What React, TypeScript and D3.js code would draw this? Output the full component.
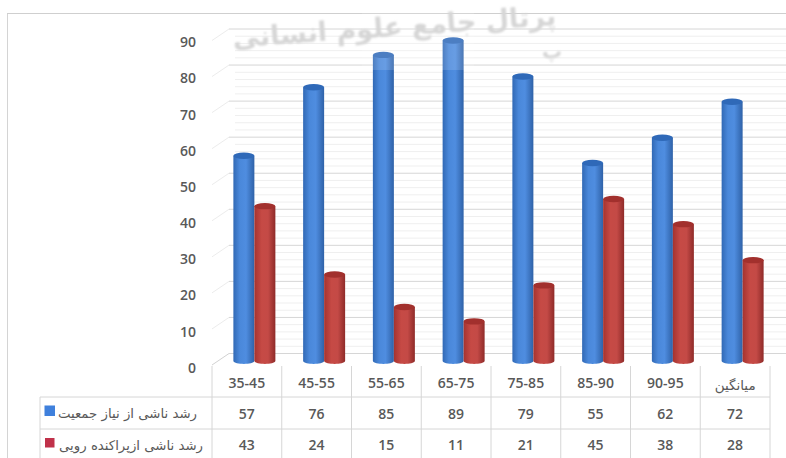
import React from "react";
import * as d3 from "d3";

// Chart values
const categories = ["35-45", "45-55", "55-65", "65-75", "75-85", "85-90", "90-95", "میانگین"];
const populationGrowth = [57, 76, 85, 89, 79, 55, 62, 72];
const sprawlGrowth = [43, 24, 15, 11, 21, 45, 38, 28];
const seriesNames = ["رشد ناشی از نیاز جمعیت", "رشد ناشی ازپراکنده رویی"];
const axisTicks = d3.range(0, 100, 10);
const minorTicks = d3.range(0, 92, 2).filter((d) => d % 10 !== 0);

const W = 786;
const H = 458;
const TEXT = "#595959";
const FONT = "'Open Sans', 'DejaVu Sans', sans-serif";
const ARABIC = "'DejaVu Sans', sans-serif";

// Table columns double as the category band
const colX = d3.scaleBand<string>().domain(categories).range([212, 770]);
// Value scale for the cylinders, measured at the centre of the end caps
const barY = d3.scaleLinear().domain([0, 89]).range([361, 40.5]);
// Back wall of the 3D plot
const wallY = d3.scaleLinear().domain([0, 90]).range([353.5, 29]);
// Labels sit on the front edge of the plot box
const labelY = d3.scaleLinear().domain([0, 90]).range([369, 43.5]);
const WALL_X = 229;
const DEPTH_X = 212;
const DEPTH_DY = 11.5;

const BAR_W = 21;
const CAP_RY = 3.2;

function Cylinder({ x, value, id, cap }: { x: number; value: number; id: string; cap: string }) {
  const top = barY(value);
  const bottom = barY(0);
  const rx = BAR_W / 2;
  const path = d3.path();
  path.moveTo(x, top);
  path.lineTo(x, bottom);
  path.bezierCurveTo(x + 1, bottom + CAP_RY * 1.2, x + BAR_W - 1, bottom + CAP_RY * 1.2, x + BAR_W, bottom);
  path.lineTo(x + BAR_W, top);
  path.closePath();
  return (
    <g>
      <path d={path.toString()} fill={`url(#${id})`} />
      <ellipse cx={x + rx} cy={top} rx={rx} ry={CAP_RY} fill={cap} />
    </g>
  );
}

export default function App() {
  const bw = colX.bandwidth();
  return (
    <svg
      width={W}
      height={H}
      viewBox={`0 0 ${W} ${H}`}
      style={{ position: "absolute", left: 0, top: 0, background: "#fff" }}
    >
      <defs>
        <linearGradient id="blueBody" x1="0" x2="1" y1="0" y2="0">
          <stop offset="0" stopColor="#3169b5" />
          <stop offset="0.3" stopColor="#4a88da" />
          <stop offset="0.6" stopColor="#4f8de0" />
          <stop offset="1" stopColor="#2f62a8" />
        </linearGradient>
        <linearGradient id="redBody" x1="0" x2="1" y1="0" y2="0">
          <stop offset="0" stopColor="#a5332f" />
          <stop offset="0.35" stopColor="#c64a45" />
          <stop offset="0.65" stopColor="#c44a46" />
          <stop offset="1" stopColor="#8f2b29" />
        </linearGradient>
        <filter id="soft" x="-5%" y="-20%" width="110%" height="140%">
          <feGaussianBlur stdDeviation="1" />
        </filter>
      </defs>

      {/* Outer frame */}
      <line x1={7.5} x2={7.5} y1={14} y2={H} stroke="#d4d4d4" />
      <line x1={7} x2={W} y1={13.5} y2={13.5} stroke="#cfcfcf" strokeWidth={1.2} />

      {/* Back wall gridlines */}
      {minorTicks.map((t) => (
        <line key={t} x1={WALL_X + 6} x2={W} y1={wallY(t)} y2={wallY(t)} stroke="#efefef" />
      ))}
      {axisTicks.map((t) => (
        <g key={t}>
          <line x1={WALL_X} x2={W} y1={wallY(t)} y2={wallY(t)} stroke="#d6d6d6" />
          <line
            x1={DEPTH_X}
            x2={WALL_X}
            y1={wallY(t) + DEPTH_DY}
            y2={wallY(t)}
            stroke={t === 0 ? "#d2d2d2" : "#ececec"}
          />
        </g>
      ))}

      {/* Cylinders */}
      {categories.map((c, i) => {
        const x0 = (colX(c) as number) + bw / 2 - BAR_W + 7.5;
        return (
          <g key={c}>
            <Cylinder x={x0} value={populationGrowth[i]} id="blueBody" cap="#2f69b8" />
            <Cylinder x={x0 + BAR_W} value={sprawlGrowth[i]} id="redBody" cap="#a2302d" />
          </g>
        );
      })}

      {/* Watermark across the top */}
      <rect x={362} y={0} width={112} height={70} fill="#fff" opacity={0.14} />
      <g filter="url(#soft)" fill="#d6d6d6" fontFamily={ARABIC} fontWeight={700}>
        <text x={395} y={36} fontSize={27} textAnchor="middle" direction="rtl" transform="rotate(-4 395 36)">
          پرتال جامع علوم انسانی
        </text>
        <text x={552} y={58} fontSize={20} textAnchor="middle">پ</text>
      </g>

      {/* Value axis labels */}
      {axisTicks.map((t) => (
        <text
          key={t}
          x={196}
          y={labelY(t)}
          textAnchor="end"
          dominantBaseline="middle"
          fontFamily={FONT}
          fontWeight={600}
          fontSize={14}
          fill={TEXT}
        >
          {t}
        </text>
      ))}

      {/* Data table grid */}
      {[...categories.map((c) => colX(c) as number), 770].map((x) => (
        <line key={x} x1={x} x2={x} y1={366} y2={H} stroke="#d6d6d6" />
      ))}
      <line x1={40} x2={40} y1={397} y2={H} stroke="#d6d6d6" />
      {[397, 429].map((y) => (
        <line key={y} x1={40} x2={770} y1={y} y2={y} stroke="#d6d6d6" />
      ))}

      {/* Table contents */}
      {categories.map((c, i) => {
        const cx = (colX(c) as number) + bw / 2;
        const textProps = {
          x: cx,
          textAnchor: "middle" as const,
          dominantBaseline: "middle" as const,
          fontFamily: FONT,
          fontWeight: 600,
          fontSize: 14,
          fill: TEXT,
        };
        const isWord = i === categories.length - 1;
        return (
          <g key={c}>
            <text {...textProps} y={isWord ? 386 : 384} fontFamily={isWord ? ARABIC : FONT} fontWeight={isWord ? 400 : 600} fontSize={isWord ? 13.5 : 14}>
              {c}
            </text>
            <text {...textProps} y={415}>{populationGrowth[i]}</text>
            <text {...textProps} y={446}>{sprawlGrowth[i]}</text>
          </g>
        );
      })}

      {/* Series keys */}
      <rect x={44.5} y={405.5} width={10.5} height={10.5} fill="#3f80dc" />
      <rect x={45} y={438} width={9.5} height={9.5} fill="#c0314a" />
      <text x={197} y={414} textAnchor="start" direction="rtl" dominantBaseline="middle" fontFamily={ARABIC} fontSize={13.3} fill={TEXT}>
        {seriesNames[0]}
      </text>
      <text x={203} y={446} textAnchor="start" direction="rtl" dominantBaseline="middle" fontFamily={ARABIC} fontSize={13.3} fill={TEXT}>
        {seriesNames[1]}
      </text>
    </svg>
  );
}
